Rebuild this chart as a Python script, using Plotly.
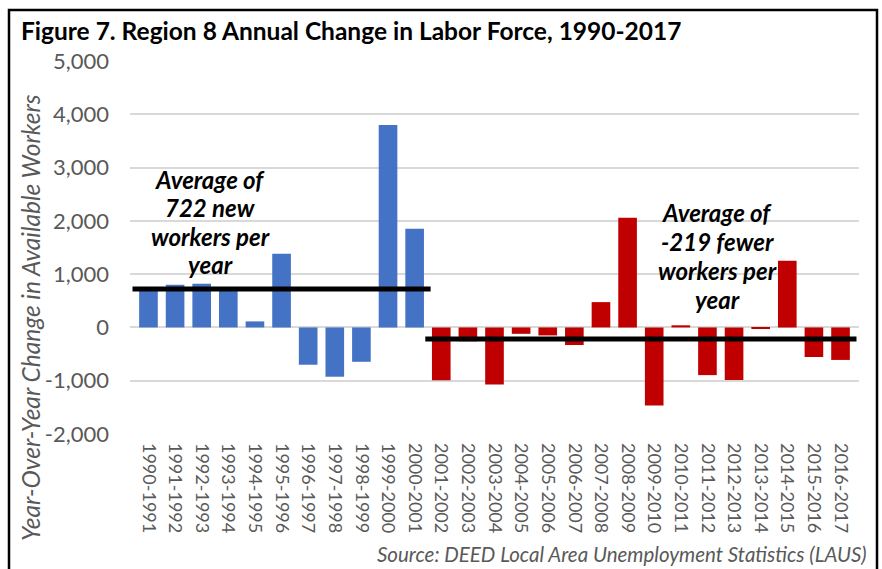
import plotly.graph_objects as go

periods = [
    "1990-1991", "1991-1992", "1992-1993", "1993-1994", "1994-1995", "1995-1996",
    "1996-1997", "1997-1998", "1998-1999", "1999-2000", "2000-2001", "2001-2002",
    "2002-2003", "2003-2004", "2004-2005", "2005-2006", "2006-2007", "2007-2008",
    "2008-2009", "2009-2010", "2010-2011", "2011-2012", "2012-2013", "2013-2014",
    "2014-2015", "2015-2016", "2016-2017",
]
change = [
    730, 801, 820, 715, 113, 1383, -700, -925, -645, 3800, 1850, -990,
    -260, -1070, -120, -150, -330, 475, 2060, -1465, 40, -895, -985, -30,
    1250, -555, -610,
]
early_count = 11          # 1990-2001 periods
early_avg = 722
late_avg = -219
early_label = ["Average of", f"{early_avg} new", "workers per", "year"]
late_label = ["Average of", f"{late_avg} fewer", "workers per", "year"]
y_ticks = [-2000, -1000, 0, 1000, 2000, 3000, 4000, 5000]
y_tick_text = [f"{v:,}" for v in y_ticks]

BLUE = "#4472C4"
RED = "#C00000"
GREY = "#595959"
FONT = "Lato"

W, H = 882, 569
ML, MR, MT, MB = 130, 23, 61, 135
PW, PH = W - ML - MR, H - MT - MB


def px_x(x):
    return (x - ML) / PW


def px_y(y):
    return (H - MB - y) / PH


colors = [BLUE if i < early_count else RED for i in range(len(periods))]

fig = go.Figure()
fig.add_trace(go.Bar(
    x=periods, y=change,
    marker=dict(color=colors, line=dict(width=0)),
    hoverinfo="x+y",
))

n = len(periods)
shapes = [
    # period averages
    dict(type="line", xref="x", yref="y", x0=-0.6, x1=early_count - 0.4,
         y0=early_avg, y1=early_avg, line=dict(color="black", width=5)),
    dict(type="line", xref="x", yref="y", x0=early_count - 0.6, x1=n - 0.4,
         y0=late_avg, y1=late_avg, line=dict(color="black", width=5)),
    # outer frame
    dict(type="rect", xref="paper", yref="paper",
         x0=px_x(9), x1=px_x(877), y0=px_y(590), y1=px_y(10),
         line=dict(color="black", width=2.5), fillcolor="rgba(0,0,0,0)", layer="above"),
]

annotations = [
    dict(text="<b>Figure 7. Region 8 Annual Change in Labor Force, 1990-2017</b>",
         xref="paper", yref="paper", x=px_x(19), y=px_y(31),
         xanchor="left", yanchor="middle", showarrow=False,
         font=dict(family=FONT, size=24.5, color="black")),
    dict(text="<i>Year-Over-Year Change in Available Workers</i>",
         xref="paper", yref="paper", x=px_x(30), y=px_y(318),
         xanchor="center", yanchor="middle", textangle=-90, showarrow=False,
         font=dict(family=FONT, size=24.5, color=GREY)),
    dict(text="<i>Source: DEED Local Area Unemployment Statistics (LAUS)</i>",
         xref="paper", yref="paper", x=px_x(869), y=px_y(554),
         xanchor="right", yanchor="middle", showarrow=False,
         font=dict(family=FONT, size=20.5, color=GREY)),
]

# callout text blocks, one annotation per line
for lines, cx, ys in [
    (early_label, 210, [179, 207, 236, 264]),
    (late_label, 717, [212, 241, 270, 299]),
]:
    for txt, yy in zip(lines, ys):
        annotations.append(dict(
            text=f"<b><i>{txt}</i></b>", xref="paper", yref="paper",
            x=px_x(cx), y=px_y(yy), xanchor="center", yanchor="middle",
            showarrow=False, font=dict(family=FONT, size=24, color="black"),
        ))

fig.update_layout(
    width=W, height=H,
    margin=dict(l=ML, r=MR, t=MT, b=MB, autoexpand=False),
    paper_bgcolor="white", plot_bgcolor="white",
    bargap=0.3,
    showlegend=False,
    shapes=shapes,
    annotations=annotations,
    font=dict(family=FONT, color=GREY),
    xaxis=dict(
        type="category", tickangle=90, showgrid=False, showline=False,
        ticks="", ticklabelstandoff=8,
        tickfont=dict(family=FONT, size=18, color=GREY),
    ),
    yaxis=dict(
        range=[-2000, 5000], tickvals=y_ticks, ticktext=y_tick_text,
        showgrid=True, gridcolor="#D9D9D9", gridwidth=1.5,
        zeroline=True, zerolinecolor="#D9D9D9", zerolinewidth=1.5,
        showline=False, ticks="", ticklabelstandoff=20,
        tickfont=dict(family=FONT, size=22, color=GREY),
    ),
)

fig.write_html("out.html")
